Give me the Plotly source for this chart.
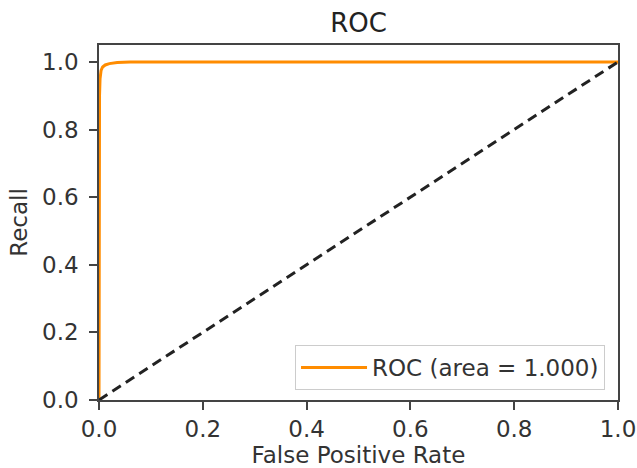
import plotly.graph_objects as go

# ROC curve values
fpr = [0.0, 0.0, 0.001, 0.002, 0.004, 0.007, 0.012, 0.02, 0.035, 0.06, 0.2, 0.5, 1.0]
tpr = [0.0, 0.60, 0.90, 0.95, 0.975, 0.985, 0.991, 0.995, 0.998, 1.0, 1.0, 1.0, 1.0]
chance_x = [0.0, 1.0]
chance_y = [0.0, 1.0]
roc_label = "ROC (area = 1.000)"
tick_vals = [0.0, 0.2, 0.4, 0.6, 0.8, 1.0]
tick_text = ["0.0", "0.2", "0.4", "0.6", "0.8", "1.0"]

W, H = 637, 468

fig = go.Figure()
fig.add_trace(go.Scatter(x=fpr, y=tpr, mode="lines", name=roc_label,
                         line=dict(color="#ff8c00", width=3)))
fig.add_trace(go.Scatter(x=chance_x, y=chance_y, mode="lines", showlegend=False,
                         line=dict(color="#222222", width=3, dash="10px,6px")))

axis_common = dict(showgrid=False, zeroline=False, showline=True, mirror=True,
                   linecolor="#444444", linewidth=1.5, ticks="outside", ticklen=8,
                   tickwidth=1.5, tickcolor="#444444", automargin=False,
                   ticklabeloverflow="allow",
                   tickfont=dict(size=23, color="#333333"),
                   tickvals=tick_vals, ticktext=tick_text)

fig.update_layout(
    width=W, height=H,
    margin=dict(l=99, r=19, t=45, b=68),
    paper_bgcolor="white", plot_bgcolor="white",
    font=dict(family="DejaVu Sans", size=23, color="#333333"),
    title=dict(text="ROC", x=(99 + 618) / 2 / W, xanchor="center",
               y=1 - 23 / H, yanchor="middle", yref="container",
               font=dict(size=26, color="#222222")),
    xaxis=dict(range=[0, 1], title=dict(text="False Positive Rate", standoff=8,
               font=dict(size=23)), **axis_common),
    yaxis=dict(range=[0, 1.05], ticklabelstandoff=6,
               title=dict(text="Recall", standoff=8, font=dict(size=23)), **axis_common),
    legend=dict(x=0.975, y=0.028, xanchor="right", yanchor="bottom",
                bgcolor="rgba(255,255,255,0.8)", bordercolor="#cccccc", borderwidth=1,
                itemwidth=66,
                font=dict(size=23, color="#333333")),
)

fig.write_html("out.html", config={"displayModeBar": False},
               post_script="document.body.style.margin='0';"
                           "document.documentElement.style.overflow='hidden';")
